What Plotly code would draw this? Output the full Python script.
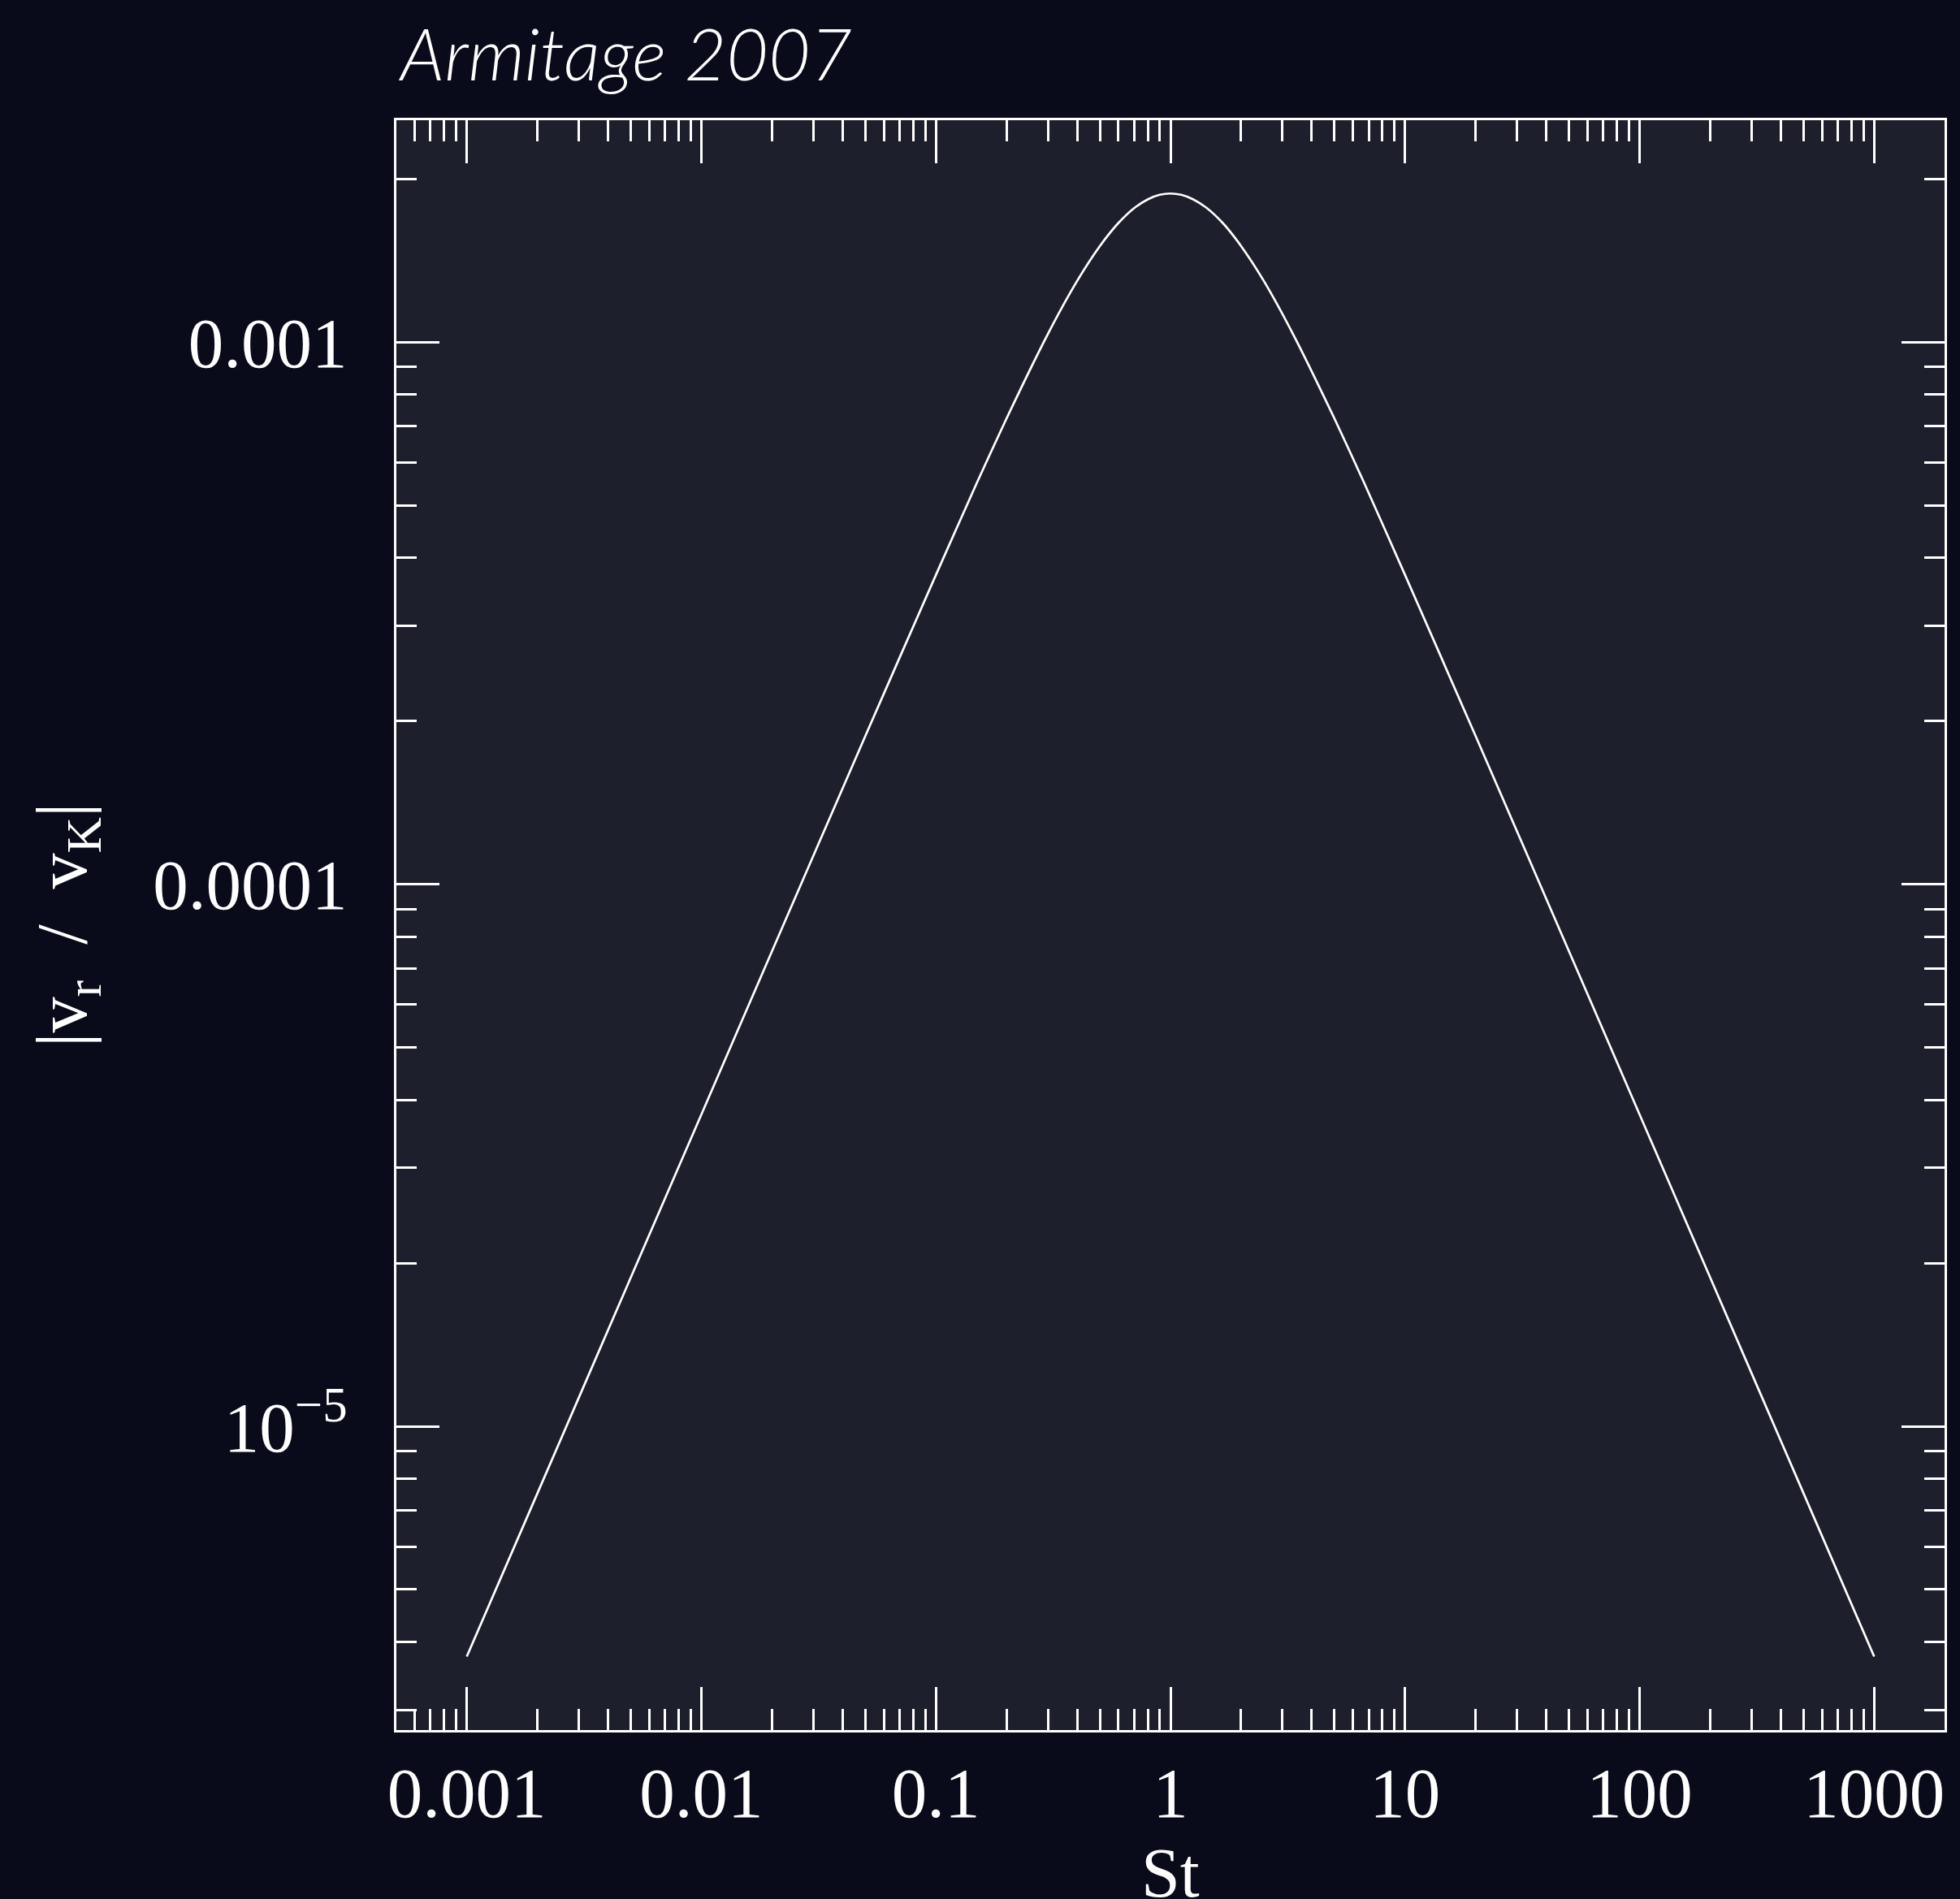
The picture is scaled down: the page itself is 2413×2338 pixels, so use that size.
import plotly.graph_objects as go

# Stokes number (x) and |v_r / v_K| (y)
stokes = [0.001, 0.002, 0.005, 0.01, 0.02, 0.05, 0.1, 0.15, 0.2, 0.3, 0.4, 0.5,
          0.6, 0.7, 0.8, 0.9, 1.0, 1.11, 1.25, 1.43, 1.67, 2.0, 2.5, 3.33, 5.0,
          6.67, 10.0, 20.0, 50.0, 100.0, 200.0, 500.0, 1000.0]
vr_over_vk = [3.76e-6, 7.52e-6, 1.88e-5, 3.76e-5, 7.52e-5, 1.876e-4, 3.72e-4,
              5.52e-4, 7.23e-4, 1.035e-3, 1.297e-3, 1.504e-3, 1.659e-3, 1.767e-3,
              1.834e-3, 1.870e-3, 1.880e-3, 1.870e-3, 1.834e-3, 1.767e-3,
              1.659e-3, 1.504e-3, 1.297e-3, 1.035e-3, 7.23e-4, 5.52e-4, 3.72e-4,
              1.876e-4, 7.52e-5, 3.76e-5, 1.88e-5, 7.52e-6, 3.76e-6]

x_major = [0.001, 0.01, 0.1, 1, 10, 100, 1000]
x_major_text = ["0.001", "0.01", "0.1", "1", "10", "100", "1000"]
y_major = [1e-5, 1e-4, 1e-3]
y_major_text = ["10<sup>−5</sup>", "0.0001", "0.001"]

x_minor = [m * 10.0 ** e for e in range(-4, 4) for m in range(2, 10)]
y_minor = [m * 10.0 ** e for e in range(-6, -2) for m in range(2, 10)]

title_text = "Armitage 2007"
x_title = "St"
y_title = "|v<sub>r</sub>\u00a0\u00a0/\u00a0\u00a0v<sub>K</sub>|"

W, H = 2413, 2338
L, R, T, B = 488, 19, 148, 208
PW, PH = W - L - R, H - T - B

fg = "#ffffff"
paper = "#0a0b1a"
serif = "Liberation Serif"

fig = go.Figure()
fig.add_trace(go.Scatter(x=stokes, y=vr_over_vk, mode="lines",
                         line=dict(color=fg, width=2.7, shape="spline", smoothing=0.6),
                         hoverinfo="skip", showlegend=False))

axis_common = dict(
    type="log", showgrid=False, zeroline=False,
    showline=True, linecolor=fg, linewidth=3, mirror="ticks",
    ticks="inside", ticklen=53, tickwidth=2.5, tickcolor=fg,
    tickfont=dict(family=serif, size=87, color=fg),
)

fig.update_xaxes(
    **axis_common,
    range=[-3.3, 3.3],
    tickmode="array", tickvals=x_major, ticktext=x_major_text,
    minor=dict(tickmode="array", tickvals=x_minor, ticks="inside", ticklen=26,
               tickwidth=2.5, tickcolor=fg, showgrid=False),
    ticklabelstandoff=0,
)
fig.update_yaxes(
    **axis_common,
    range=[-5.5603, -2.5906],
    tickmode="array", tickvals=y_major, ticktext=y_major_text,
    minor=dict(tickmode="array", tickvals=y_minor, ticks="inside", ticklen=25,
               tickwidth=2.5, tickcolor=fg, showgrid=False),
    ticklabelstandoff=40,
)

fig.update_layout(
    width=W, height=H,
    margin=dict(l=L, r=R, t=T, b=B, pad=0),
    paper_bgcolor=paper,
    plot_bgcolor="#1e1f2c",
    showlegend=False,
    annotations=[
        dict(text=title_text, xref="paper", yref="paper",
             x=0, y=(H - B - 64) / PH, xanchor="left", yanchor="middle",
             showarrow=False,
             font=dict(family="Lato", size=89, color=fg, style="italic", weight=300)),
        dict(text=x_title, xref="paper", yref="paper",
             x=0.5, y=-(2306 - (H - B)) / PH, xanchor="center", yanchor="middle",
             showarrow=False, font=dict(family=serif, size=86, color=fg)),
        dict(text=y_title, xref="paper", yref="paper",
             x=-(L - 82) / PW, y=0.5, xanchor="center", yanchor="middle",
             textangle=-90, showarrow=False,
             font=dict(family=serif, size=88, color=fg)),
    ],
)

fig.write_html(
    "out.html",
    config={"displayModeBar": False},
    post_script=("document.body.style.margin='0';"
                 "document.body.style.overflow='hidden';"
                 "document.body.style.background='" + paper + "';"),
)
